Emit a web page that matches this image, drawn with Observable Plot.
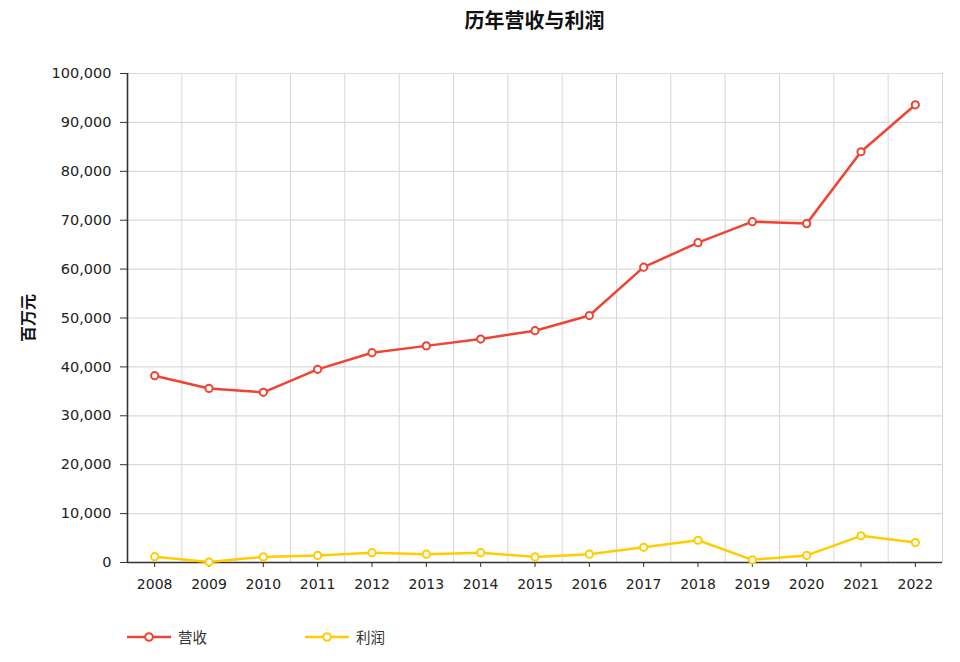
<!DOCTYPE html>
<html>
<head>
<meta charset="utf-8">
<script src="https://cdn.jsdelivr.net/npm/d3@7"></script>
<script src="https://cdn.jsdelivr.net/npm/@observablehq/plot@0.6"></script>
<style>
  html, body { margin: 0; padding: 0; background: #fff; }
  #wrap { position: relative; width: 960px; height: 662px; overflow: hidden; }
  #title { position: absolute; top: 5px; left: 127px; width: 815px; text-align: center;
    font-family: "Noto Sans CJK SC", sans-serif; font-weight: bold; font-size: 20px; color: #111; }
  #legend { position: absolute; top: 626px; left: 127px; font-family: "Noto Sans CJK SC", sans-serif;
    font-size: 14.5px; color: #333; display: flex; }
  .item { display: flex; align-items: center; margin-right: 0; }
  .item span { margin-left: 7px; }
  #chart { position: absolute; top: 0; left: 0; }
</style>
</head>
<body>
<div id="wrap">
  <div id="chart"></div>
  <div id="title">历年营收与利润</div>
  <div id="legend"></div>
</div>
<script>
const years = [2008, 2009, 2010, 2011, 2012, 2013, 2014, 2015, 2016, 2017, 2018, 2019, 2020, 2021, 2022];
const revenue = [38200, 35600, 34800, 39500, 42900, 44300, 45700, 47400, 50500, 60400, 65400, 69700, 69300, 84000, 93600];
const profit = [1200, 100, 1150, 1450, 2000, 1700, 2000, 1150, 1700, 3100, 4550, 550, 1450, 5450, 4080];
const yTicks = [0, 10000, 20000, 30000, 40000, 50000, 60000, 70000, 80000, 90000, 100000];
const seriesNames = ["营收", "利润"];
const seriesColors = ["#ee4433", "#ffcc00"];

const revData = years.map((y, i) => ({year: y, value: revenue[i]}));
const proData = years.map((y, i) => ({year: y, value: profit[i]}));
const boundaries = [years[0] - 0.5, ...years.map(y => y + 0.5)];

const chart = Plot.plot({
  width: 960,
  height: 662,
  marginTop: 73,
  marginBottom: 100,
  marginLeft: 127,
  marginRight: 18,
  style: {fontFamily: "DejaVu Sans, sans-serif", fontSize: "14px", background: "transparent"},
  x: {type: "linear", domain: [years[0] - 0.5, years[years.length - 1] + 0.5]},
  y: {domain: [0, 100000]},
  marks: [
    Plot.ruleX(boundaries, {stroke: "#d6d6d6", strokeWidth: 1}),
    Plot.ruleY(yTicks.slice(1), {stroke: "#dadada", strokeWidth: 1.2}),
    Plot.axisX({ticks: years, tickFormat: d => String(d), tickSize: 5, tickPadding: 12,
      label: null, stroke: "#333", fill: "#222", fontSize: 14}),
    Plot.axisY({ticks: yTicks, tickFormat: d3.format(","), tickSize: 7, tickPadding: 9,
      label: null, stroke: "#333", fill: "#222", fontSize: 14.5}),
    Plot.ruleX([years[0] - 0.5], {stroke: "#333", strokeWidth: 1.6}),
    Plot.ruleY([0], {stroke: "#333", strokeWidth: 1.6}),
    Plot.text(["百万元"], {frameAnchor: "left", textAnchor: "middle", dx: -99, rotate: -90, text: d => d,
      fontFamily: "Noto Sans CJK SC, sans-serif", fontWeight: "bold", fontSize: 16, fill: "#111"}),
    Plot.line(revData, {x: "year", y: "value", stroke: seriesColors[0], strokeWidth: 2.5}),
    Plot.dot(revData, {x: "year", y: "value", r: 3.6, stroke: seriesColors[0], strokeWidth: 2, fill: "white"}),
    Plot.line(proData, {x: "year", y: "value", stroke: seriesColors[1], strokeWidth: 2.5}),
    Plot.dot(proData, {x: "year", y: "value", r: 3.6, stroke: seriesColors[1], strokeWidth: 2, fill: "white"})
  ]
});
document.getElementById("chart").appendChild(chart);

const legend = document.getElementById("legend");
seriesNames.forEach((name, i) => {
  const item = document.createElement("div");
  item.className = "item";
  item.style.width = i === 0 ? "178px" : "auto";
  item.innerHTML = `<svg width="44" height="14"><line x1="0" y1="7" x2="44" y2="7" stroke="${seriesColors[i]}" stroke-width="2.5"/><circle cx="22" cy="7" r="3.8" fill="white" stroke="${seriesColors[i]}" stroke-width="2"/></svg><span>${name}</span>`;
  legend.appendChild(item);
});
</script>
</body>
</html>
